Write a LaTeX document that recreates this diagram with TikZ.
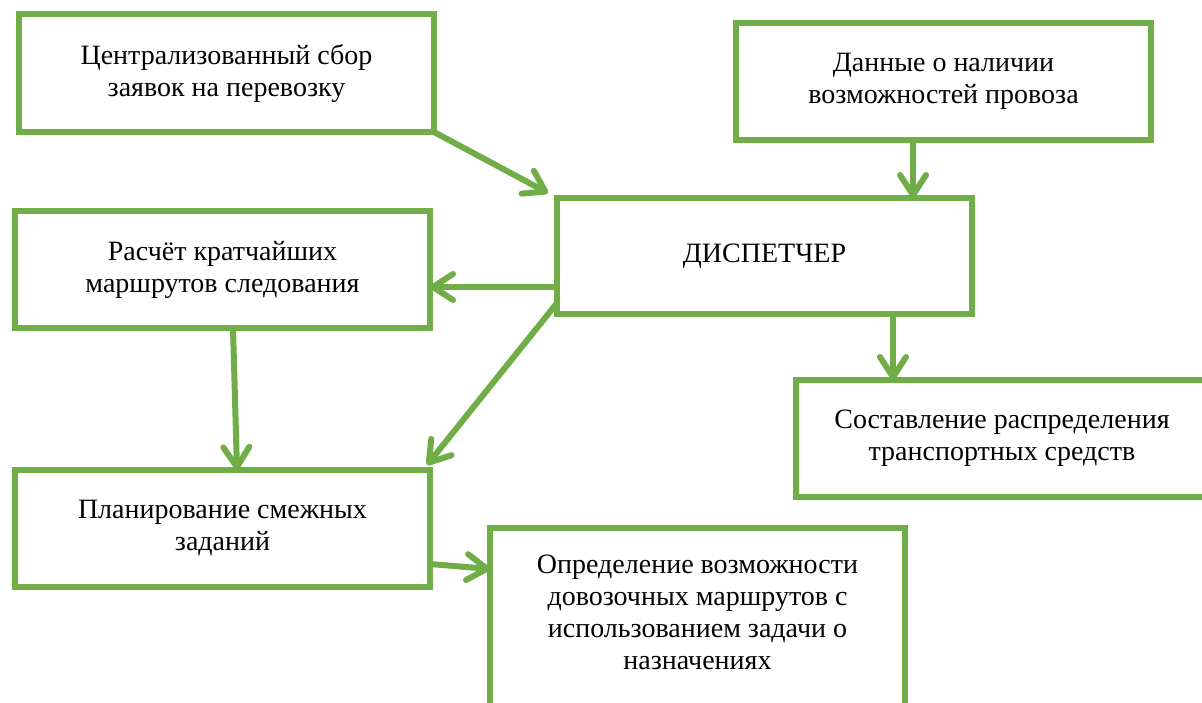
\documentclass[tikz,border=0pt]{standalone}
\usepackage{fontspec}
\newfontfamily\boxfont{Liberation Serif}[Script=Cyrillic]
\usetikzlibrary{arrows.meta}
\definecolor{leaf}{HTML}{70AD47}
\tikzset{
  box/.style={draw=leaf, line width=6.5pt, rectangle, outer sep=0pt, inner sep=0pt,
    minimum width=415pt, minimum height=117pt, align=center},
  arr/.style={draw=leaf, line width=6pt, line cap=round,
    -{Straight Barb[length=20pt, width=26pt, round]}}
}
\begin{document}
\begin{tikzpicture}[x=1pt, y=-1pt]
\useasboundingbox (0,0) rectangle (1202,702);

% boxes
\node[box, minimum height=118pt, font=\boxfont\fontsize{28}{32}\selectfont] (b1) at (226.5,73) {Централизованный сбор\\заявок на перевозку};
\node[box, font=\boxfont\fontsize{28}{32}\selectfont] (b2) at (943.5,81.5) {Данные о наличии\\возможностей провоза};
\node[box, minimum height=116pt, font=\boxfont\fontsize{28}{32}\selectfont] (b3) at (764.5,256) {ДИСПЕТЧЕР};
\node[box, font=\boxfont\fontsize{28}{32}\selectfont] (b4) at (222.5,269.5) {Расчёт кратчайших\\маршрутов следования};
\node[box, minimum width=412pt, font=\boxfont\fontsize{28}{32}\selectfont] (b5) at (1002,438.5) {Составление распределения\\транспортных средств};
\node[box, font=\boxfont\fontsize{28}{32}\selectfont] (b6) at (222.5,528.5) {Планирование смежных\\заданий};
\node[box, minimum height=200pt] (b7) at (697.5,628) {};
\node[align=center, inner sep=0pt, font=\boxfont\fontsize{28}{32}\selectfont] (b7t) at (697.5,612) {Определение возможности\\довозочных маршрутов с\\использованием задачи о\\назначениях};

% connectors
\draw[arr] (b1.south east) -- ([shift={(-9,-5)}]b3.north west);
\draw[arr] ([xshift=-30.5pt]b2.south) -- ([xshift=148.5pt]b3.north);
\draw[arr] ([yshift=-31pt]b3.west) -- ([yshift=-17.5pt]b4.east);
\draw[arr] ([yshift=-47pt]b3.west) -- ([shift={(-3,-5)}]b6.north east);
\draw[arr] ([xshift=128.5pt]b3.south) -- ([xshift=-109pt]b5.north);
\draw[arr] ([xshift=10.5pt]b4.south) -- ([xshift=14.5pt]b6.north);
\draw[arr] ([yshift=-35.5pt]b6.east) -- ([yshift=59pt]b7.west);
\end{tikzpicture}
\end{document}
